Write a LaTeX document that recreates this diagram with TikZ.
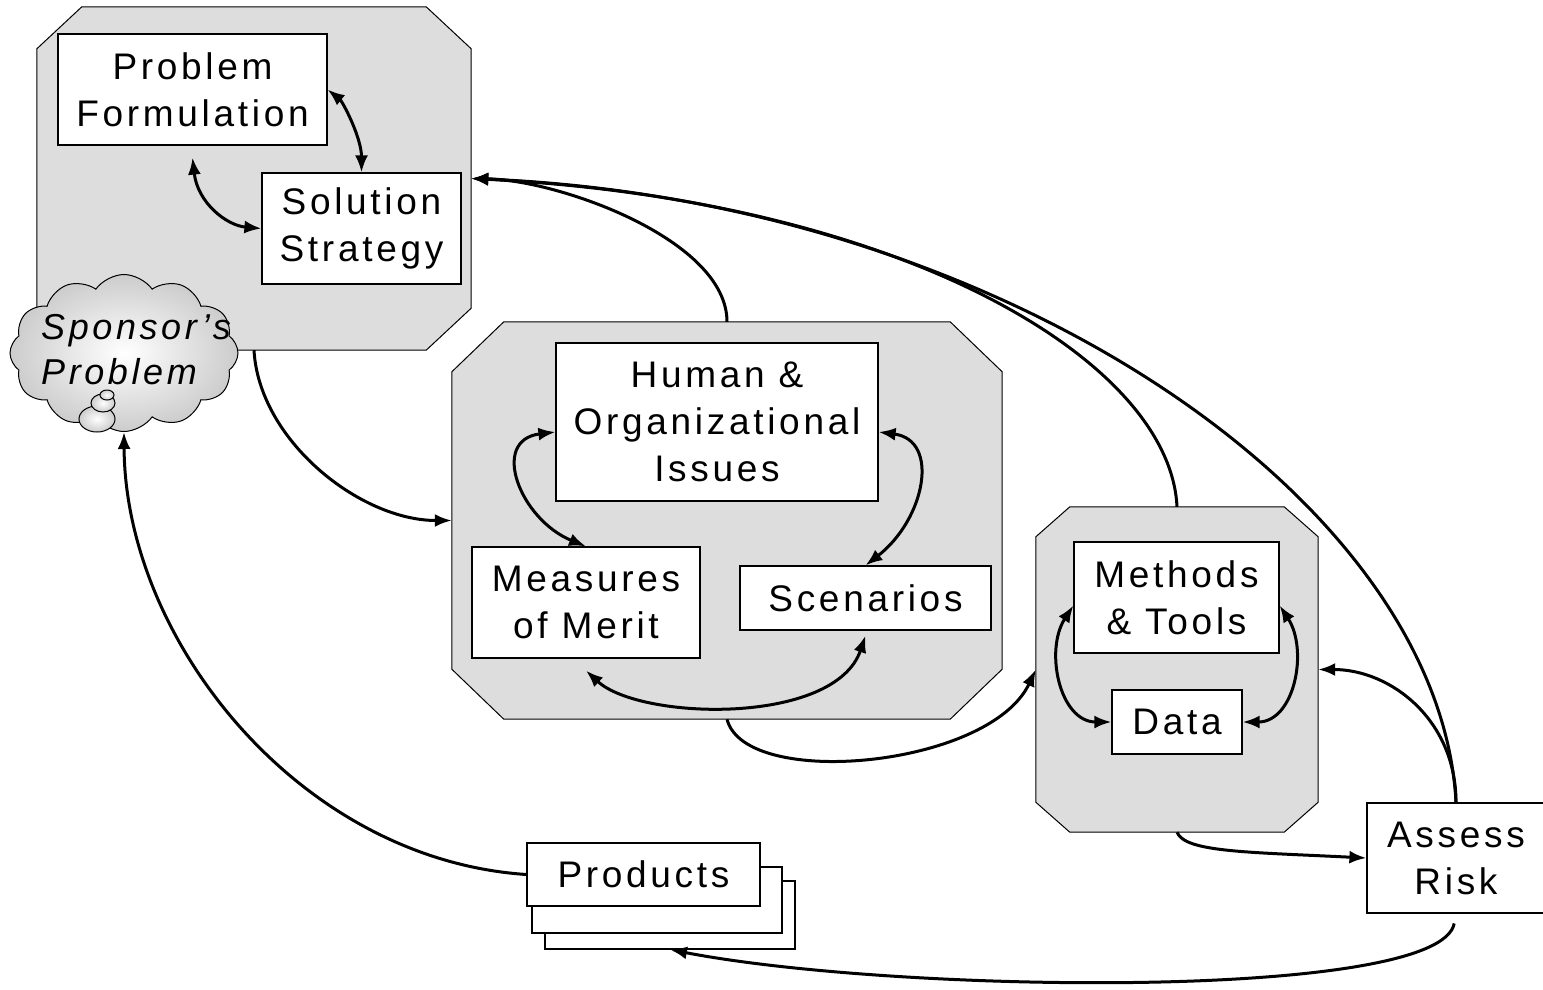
\documentclass[tikz,border=0pt]{standalone}
\usepackage{fontspec}
\setmainfont{Liberation Sans}[LetterSpace=10]
\usetikzlibrary{shapes.symbols,arrows.meta}
\definecolor{boxgray}{gray}{0.866}
\tikzset{
  stage/.style={rectangle, inner sep=0pt},
  card/.style={draw, fill=white, line width=1.2pt, inner sep=0pt, align=center,
    font=\fontsize{37}{47}\selectfont},
  flow/.style={line width=3pt, -{Latex[length=17pt,width=13pt]}},
  twoway/.style={line width=3pt, {Latex[length=17pt,width=13pt]}-{Latex[length=17pt,width=13pt]}},
  bubble/.style={draw, line width=1pt, shading=radial, inner color=white, outer color=gray!40},
}
% octagonal outline of a stage node: name, horizontal cut, vertical cut
\newcommand\stagebox[3]{%
  \filldraw[fill=boxgray, line width=1pt]
    ([xshift=#2]#1.north west) -- ([xshift=-#2]#1.north east) -- ([yshift=-#3]#1.north east)
    -- ([yshift=#3]#1.south east) -- ([xshift=-#2]#1.south east) -- ([xshift=#2]#1.south west)
    -- ([yshift=#3]#1.south west) -- ([yshift=-#3]#1.north west) -- cycle;}

\begin{document}
\begin{tikzpicture}[x=1pt,y=-1pt]
\useasboundingbox (0,0) rectangle (1543,989);
% three stages
\node[stage, minimum width=434pt, minimum height=343pt] (plan) at (254,178.5) {};
\node[stage, minimum width=550pt, minimum height=397pt] (issues) at (727,520.5) {};
\node[stage, minimum width=282pt, minimum height=325pt] (tools) at (1177,669.5) {};
\stagebox{plan}{45pt}{42pt}
\stagebox{issues}{52pt}{50pt}
\stagebox{tools}{34pt}{30pt}
% boxes
\node[card, minimum width=269pt, minimum height=111pt] (pf) at (192.5,89.5) {Problem\\Formulation};
\node[card, minimum width=199pt, minimum height=111pt] (ss) at (361.5,228.5) {Solution\\Strategy};
\node[card, minimum width=322pt, minimum height=158pt] (hoi) at (717,422) {Human \&\\Organizational\\Issues};
\node[card, minimum width=228pt, minimum height=111pt] (mom) at (586,602.5) {Measures\\of Merit};
\node[card, minimum width=251pt, minimum height=64pt] (scen) at (865.5,598) {Scenarios};
\node[card, minimum width=205pt, minimum height=111pt] (mt) at (1176.5,597.5) {Methods\\\& Tools};
\node[card, minimum width=130pt, minimum height=64pt] (data) at (1177,722) {Data};
\node[card, minimum width=178pt, minimum height=110pt] (risk) at (1456,858) {Assess\\Risk};
\node[card, minimum width=250pt, minimum height=68pt] (prodc) at (670,915) {};
\node[card, minimum width=250pt, minimum height=66pt] (prodb) at (657,900) {};
\node[card, minimum width=233pt, minimum height=63pt] (prod) at (643.5,874.5) {Products};
% cloud
\node[cloud, cloud puffs=12, cloud puff arc=110, bubble, minimum width=228pt, minimum height=157pt, inner sep=0pt] (cloud) at (124,353) {};
\draw[bubble] (97,419) ellipse (18 and 13);
\draw[bubble] (103,403) ellipse (12 and 9);
\draw[bubble] (107,395) ellipse (7 and 5);
\node[align=left, inner sep=0pt, font=\fontsize{36}{45}\selectfont\itshape] (sponsor) at (136,350) {Sponsor’s\\Problem};
% inside the stages
\draw[twoway] (pf.east) .. controls +(15,12) and +(0,-35) .. (ss.north);
\draw[twoway] ([yshift=-12pt]pf.south) .. controls +(5,45) and +(-35,-3) .. (ss.west);
\draw[twoway] ([yshift=-10pt]hoi.west) .. controls +(-66,8) and +(-66,-27) .. (mom.north);
\draw[twoway] ([yshift=-10pt]hoi.east) .. controls +(62,8) and +(59.5,-46) .. (scen.north);
\draw[twoway] ([yshift=-12pt]mom.south) .. controls +(54,50) and +(-30.5,90) .. ([yshift=-5pt]scen.south);
\draw[twoway] ([yshift=-8pt]mt.west) .. controls +(-29,44.5) and +(-52,0) .. (data.west);
\draw[twoway] ([yshift=-8pt]mt.east) .. controls +(29,44.5) and +(52,0) .. (data.east);
% between the stages
\draw[flow] (plan.south) .. controls +(5,90) and +(-92,0) .. (issues.west);
\draw[flow] (issues.north) .. controls +(0,-82) and +(88,1.5) .. (plan.east);
\draw[flow] (tools.north) .. controls +(-7,-147) and +(429,21.5) .. (plan.east);
\draw[flow] (risk.north) .. controls +(-16,-303) and +(529,21.5) .. (plan.east);
\draw[flow] (risk.north) .. controls +(0,-83) and +(72,0) .. (tools.east);
\draw[flow] (issues.south) .. controls +(18,71) and +(-46,98) .. (tools.west);
\draw[flow] (tools.south) .. controls +(8,20) and +(-120,-6) .. (risk.west);
\draw[flow, shorten <=10pt] (risk.south) .. controls +(-16,87) and +(228,44) .. (prodc.south);
\draw[flow] (prod.west) .. controls +(-227,-15) and +(1,208) .. (cloud.south);
\end{tikzpicture}
\end{document}
